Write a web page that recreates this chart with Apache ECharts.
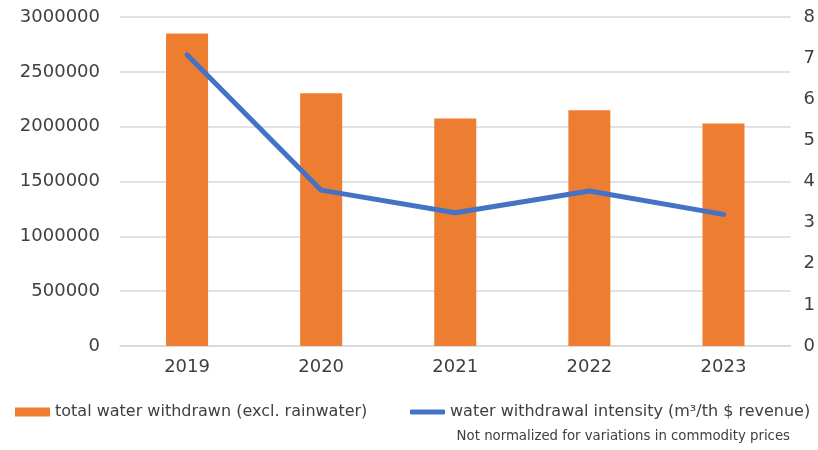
<!DOCTYPE html>
<html>
<head>
<meta charset="utf-8">
<script src="https://cdn.jsdelivr.net/npm/echarts@6/dist/echarts.min.js"></script>
<style>
  html, body { margin: 0; padding: 0; background: #fff; }
  #chart { width: 818px; height: 450px; }
</style>
</head>
<body>
<div id="chart"></div>
<script>
// Years on the category axis
const years = ['2019', '2020', '2021', '2022', '2023'];
// Total water withdrawn, excl. rainwater (m³)
const withdrawn = [2850000, 2305000, 2075000, 2150000, 2030000];
// Water withdrawal intensity (m³ per thousand $ revenue)
const intensity = [7.08, 3.79, 3.24, 3.77, 3.20];

const barName = 'total water withdrawn (excl. rainwater)';
const lineName = 'water withdrawal intensity (m\u00B3/th $ revenue)';
const textColor = '#404040';
const font = 'DejaVu Sans';

const chart = echarts.init(document.getElementById('chart'));
chart.setOption({
  animation: false,
  textStyle: { fontFamily: font, color: textColor },
  grid: { left: 120, right: 26, top: 17, bottom: 104, containLabel: false },
  legend: [
    {
      data: [{ name: barName, icon: 'rect' }], left: 10, top: 399, itemWidth: 35, itemHeight: 9, itemGap: 10,
      textStyle: { fontSize: 16, color: textColor, fontFamily: font }
    },
    {
      data: [{ name: lineName, icon: 'roundRect' }], left: 405, top: 399, itemWidth: 35, itemHeight: 5,
      textStyle: { fontSize: 16, color: textColor, fontFamily: font }
    }
  ],
  graphic: [{
    type: 'text', right: 28, top: 430,
    style: { text: 'Not normalized for variations in commodity prices', fontSize: 13.3, fill: textColor, fontFamily: font }
  }],
  xAxis: {
    type: 'category', data: years,
    axisLine: { lineStyle: { color: '#D9D9D9', width: 1.5 } },
    axisTick: { show: false },
    axisLabel: { fontSize: 18, color: textColor, margin: 12 }
  },
  yAxis: [
    {
      type: 'value', min: 0, max: 3000000, interval: 500000,
      axisLine: { show: false }, axisTick: { show: false },
      axisLabel: { fontSize: 18, color: textColor, margin: 20, formatter: (v) => String(v) },
      splitLine: { lineStyle: { color: '#D9D9D9', width: 1.5 } }
    },
    {
      type: 'value', min: 0, max: 8, interval: 1,
      axisLine: { show: false }, axisTick: { show: false },
      axisLabel: { fontSize: 18, color: textColor, margin: 13 },
      splitLine: { show: false }
    }
  ],
  series: [
    {
      name: barName, type: 'bar', data: withdrawn, yAxisIndex: 0,
      barWidth: 42, itemStyle: { color: '#ED7D31' }
    },
    {
      name: lineName, type: 'line', data: intensity, yAxisIndex: 1,
      symbol: 'none', lineStyle: { color: '#4472C4', width: 5, cap: 'round', join: 'round' },
      itemStyle: { color: '#4472C4' }
    }
  ]
});
</script>
</body>
</html>
